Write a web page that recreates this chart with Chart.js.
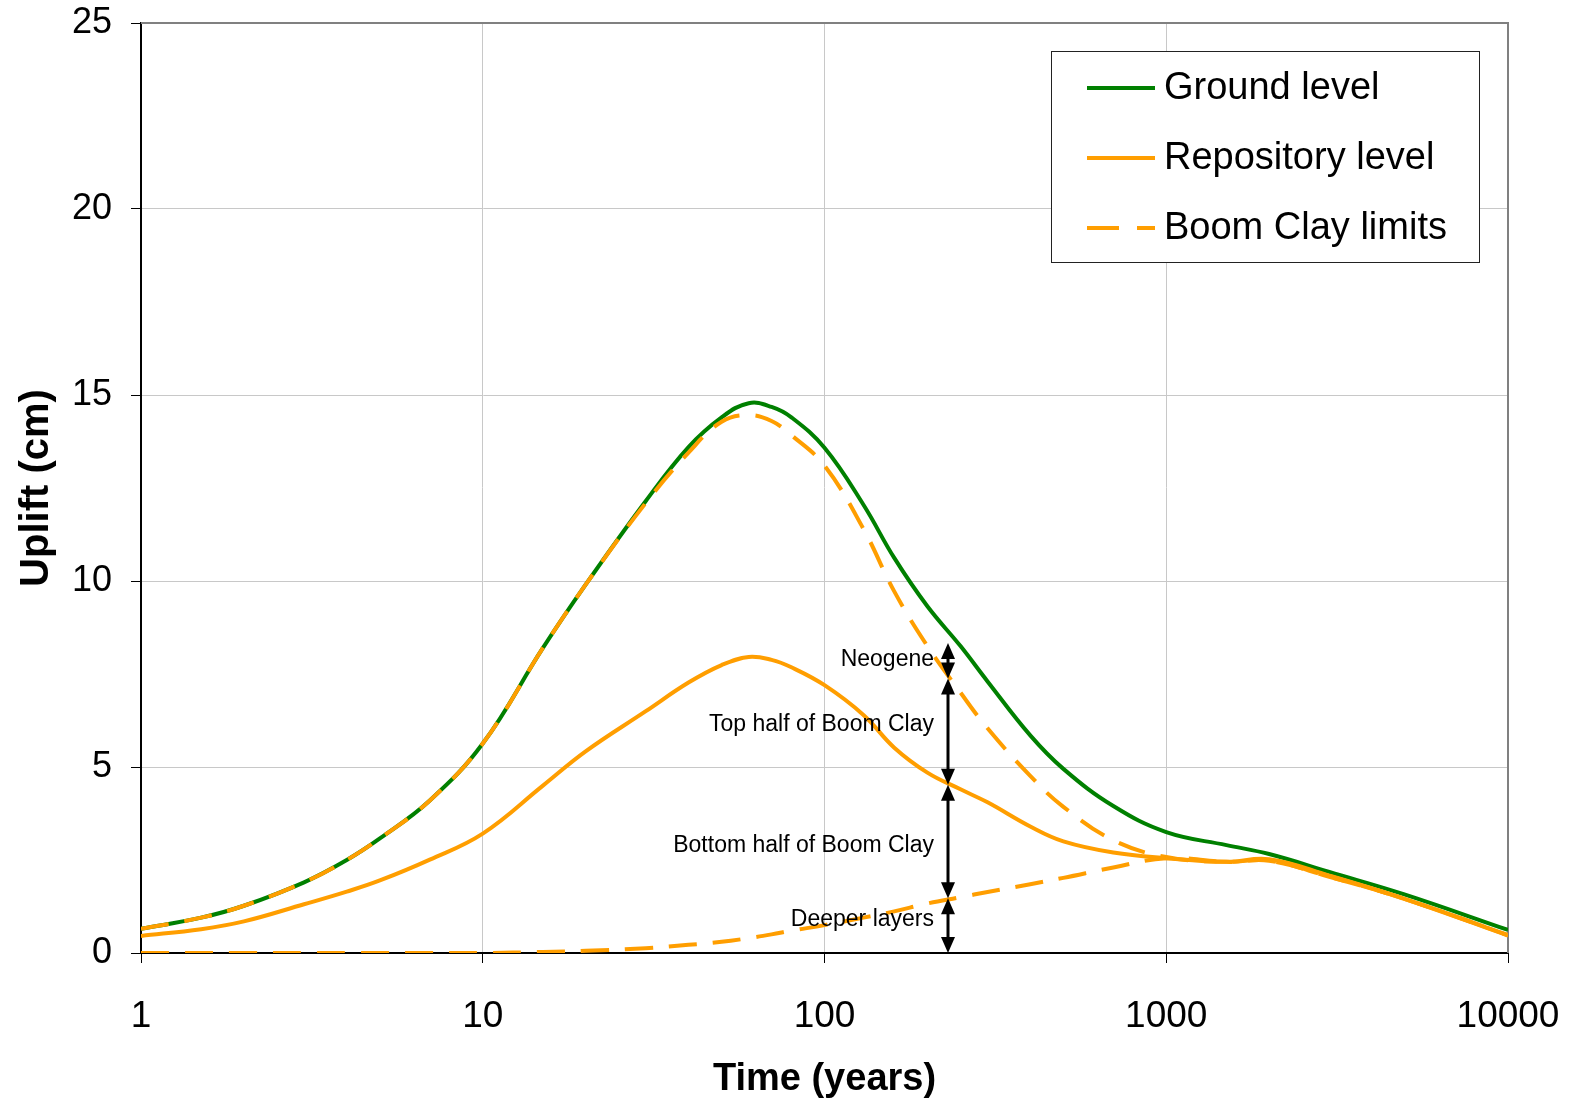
<!DOCTYPE html>
<html>
<head>
<meta charset="utf-8">
<title>Uplift vs time</title>
<script src="https://cdn.jsdelivr.net/npm/chart.js@4.4.1/dist/chart.umd.min.js"></script>
<style>
  html, body { margin: 0; padding: 0; background: #fff; }
  #chart { display: block; }
</style>
</head>
<body>
<canvas id="chart" width="1570" height="1103"></canvas>
<script>
// time axis (years), shared by all curves
const years = [1, 1.5, 2, 3, 4, 5, 7, 10, 15, 20, 30, 40, 50, 60, 70, 80, 100, 130, 160, 200, 250, 300, 400, 500, 700, 1000, 1500, 2000, 3000, 5000, 10000];

// uplift (cm)
const groundLevel = [0.65, 0.95, 1.27, 1.9, 2.5, 3.08, 4.1, 5.63, 8.2, 9.9, 12.15, 13.6, 14.4, 14.78, 14.68, 14.4, 13.58, 12.05, 10.62, 9.32, 8.25, 7.3, 5.85, 4.95, 3.95, 3.25, 2.9, 2.66, 2.18, 1.57, 0.62];
const repositoryLevel = [0.46, 0.64, 0.85, 1.31, 1.65, 1.95, 2.51, 3.21, 4.5, 5.42, 6.5, 7.27, 7.74, 7.96, 7.88, 7.68, 7.2, 6.4, 5.52, 4.85, 4.4, 4.05, 3.4, 3.0, 2.7, 2.55, 2.45, 2.52, 2.08, 1.45, 0.47];
const boomClayTop = [0.65, 0.95, 1.27, 1.9, 2.5, 3.08, 4.1, 5.63, 8.2, 9.9, 12.1, 13.45, 14.28, 14.46, 14.3, 13.92, 13.1, 11.4, 9.72, 8.25, 7.0, 6.04, 4.76, 3.93, 3.03, 2.58, 2.45, 2.48, 2.05, 1.45, 0.48];
const boomClayBottom = [0, 0, 0, 0, 0, 0, 0, 0, 0.03, 0.06, 0.13, 0.22, 0.3, 0.4, 0.5, 0.6, 0.75, 0.95, 1.12, 1.33, 1.5, 1.64, 1.85, 2.02, 2.3, 2.55, 2.45, 2.48, 2.05, 1.45, 0.48];

// axis ticks
const timeTicks = [1, 10, 100, 1000, 10000];
const upliftTicks = [0, 5, 10, 15, 20, 25];

// layer bracket at t = 230 years
const bracketYear = 230;
const layerBounds = [0, 1.47, 4.52, 7.38, 8.33];
const layerNames = ['Deeper layers', 'Bottom half of Boom Clay', 'Top half of Boom Clay', 'Neogene'];
const layerLabelY = [0.9, 2.88, 6.13, 7.88];

const legendNames = ['Ground level', 'Repository level', 'Boom Clay limits'];
const timeTitle = 'Time (years)';

const GREEN = '#008000';
const ORANGE = '#FF9E00';
const FONT = "'Liberation Sans', Arial, sans-serif";

function toPoints(vals) {
  return years.map((t, i) => ({ x: t, y: vals[i] }));
}

// gray frame on the top and right of the plot area
const frameBox = {
  id: 'frameBox',
  beforeDatasetsDraw(chart) {
    const { ctx, chartArea: a } = chart;
    ctx.save();
    ctx.strokeStyle = '#808080';
    ctx.lineWidth = 2;
    ctx.beginPath();
    ctx.moveTo(a.left, a.top);
    ctx.lineTo(a.right, a.top);
    ctx.lineTo(a.right, a.bottom);
    ctx.stroke();
    ctx.restore();
  }
};

// x axis title, placed a fixed distance under the plot
const timeAxisTitle = {
  id: 'timeAxisTitle',
  afterDraw(chart) {
    const { ctx, chartArea: a } = chart;
    ctx.save();
    ctx.font = 'bold 38px ' + FONT;
    ctx.fillStyle = '#000';
    ctx.textAlign = 'center';
    ctx.textBaseline = 'middle';
    ctx.fillText(timeTitle, (a.left + a.right) / 2, a.bottom + 127);
    ctx.restore();
  }
};

function arrowHead(ctx, x, tipY, dir) {
  // dir = -1 points up, +1 points down
  const w = 7, h = 16;
  ctx.beginPath();
  ctx.moveTo(x, tipY);
  ctx.lineTo(x - w, tipY - dir * h);
  ctx.lineTo(x + w, tipY - dir * h);
  ctx.closePath();
  ctx.fill();
}

const layerBracket = {
  id: 'layerBracket',
  afterDatasetsDraw(chart) {
    const { ctx, scales: { x, y } } = chart;
    const px = Math.round(x.getPixelForValue(bracketYear));
    ctx.save();
    ctx.strokeStyle = '#000';
    ctx.fillStyle = '#000';
    ctx.lineWidth = 3;
    for (let i = 0; i < layerBounds.length - 1; i++) {
      const yLow = y.getPixelForValue(layerBounds[i]);
      const yHigh = y.getPixelForValue(layerBounds[i + 1]);
      ctx.beginPath();
      ctx.moveTo(px, yLow - 8);
      ctx.lineTo(px, yHigh + 8);
      ctx.stroke();
      arrowHead(ctx, px, yLow, 1);
      arrowHead(ctx, px, yHigh, -1);
    }
    ctx.font = '23px ' + FONT;
    ctx.textAlign = 'right';
    ctx.textBaseline = 'middle';
    layerNames.forEach((name, i) => {
      ctx.fillText(name, px - 14, y.getPixelForValue(layerLabelY[i]));
    });
    ctx.restore();
  }
};

const boxLegend = {
  id: 'boxLegend',
  afterDraw(chart) {
    const { ctx, chartArea: a } = chart;
    const left = a.right - 457, top = a.top + 28;
    const w = 428, h = 211;
    ctx.save();
    ctx.fillStyle = '#fff';
    ctx.fillRect(left, top, w, h);
    ctx.strokeStyle = '#222';
    ctx.lineWidth = 1;
    ctx.strokeRect(left + 0.5, top + 0.5, w, h);
    const styles = [
      { color: GREEN, dash: [] },
      { color: ORANGE, dash: [] },
      { color: ORANGE, dash: [32, 18] }
    ];
    ctx.font = '38px ' + FONT;
    ctx.textBaseline = 'middle';
    legendNames.forEach((name, i) => {
      const cy = top + 37 + i * 70;
      ctx.strokeStyle = styles[i].color;
      ctx.lineWidth = 4;
      ctx.setLineDash(styles[i].dash);
      ctx.beginPath();
      ctx.moveTo(left + 36, cy);
      ctx.lineTo(left + 104, cy);
      ctx.stroke();
      ctx.setLineDash([]);
      ctx.fillStyle = '#000';
      ctx.fillText(name, left + 113, cy + 1);
    });
    ctx.restore();
  }
};

const lineBase = {
  fill: false,
  pointRadius: 0,
  borderWidth: 4,
  tension: 0.4,
  borderCapStyle: 'butt'
};

new Chart(document.getElementById('chart'), {
  type: 'line',
  data: {
    datasets: [
      Object.assign({}, lineBase, { label: legendNames[0], data: toPoints(groundLevel), borderColor: GREEN, order: 3 }),
      Object.assign({}, lineBase, { label: legendNames[1], data: toPoints(repositoryLevel), borderColor: ORANGE, order: 2 }),
      Object.assign({}, lineBase, { label: legendNames[2], data: toPoints(boomClayTop), borderColor: ORANGE, borderDash: [28, 16], order: 1 }),
      Object.assign({}, lineBase, { label: legendNames[2], data: toPoints(boomClayBottom), borderColor: ORANGE, borderDash: [28, 16], order: 0 })
    ]
  },
  options: {
    responsive: false,
    animation: false,
    layout: { padding: { top: 23, right: 62, bottom: 0, left: 0 } },
    plugins: {
      legend: { display: false },
      tooltip: { enabled: false }
    },
    scales: {
      x: {
        type: 'logarithmic',
        min: 1,
        max: 10000,
        afterBuildTicks(scale) {
          scale.ticks = timeTicks.map(v => ({ value: v }));
        },
        afterFit(scale) {
          scale.height = 150;
          scale.paddingLeft = 0;
          scale.paddingRight = 0;
        },
        ticks: {
          color: '#000',
          font: { family: FONT, size: 37 },
          padding: 32,
          maxRotation: 0,
          autoSkip: false,
          callback: v => String(v)
        },
        grid: { color: '#c8c8c8', lineWidth: 1, tickColor: '#000', tickLength: 10, tickWidth: 1 },
        border: { color: '#000', width: 2 },
        title: { display: false }
      },
      y: {
        min: 0,
        max: 25,
        afterBuildTicks(scale) {
          scale.ticks = upliftTicks.map(v => ({ value: v }));
        },
        afterFit(scale) {
          scale.width = 141;
          scale.paddingTop = 0;
          scale.paddingBottom = 0;
        },
        ticks: {
          color: '#000',
          font: { family: FONT, size: 36 },
          padding: 19
        },
        grid: { color: '#c8c8c8', lineWidth: 1, tickColor: '#000', tickLength: 10, tickWidth: 1 },
        border: { color: '#000', width: 2 },
        title: {
          display: true,
          text: 'Uplift (cm)',
          color: '#000',
          font: { family: FONT, size: 40, weight: 'bold', lineHeight: 1.0 },
          padding: { top: 17, bottom: 0 }
        }
      }
    }
  },
  plugins: [frameBox, layerBracket, boxLegend, timeAxisTitle]
});
</script>
</body>
</html>
